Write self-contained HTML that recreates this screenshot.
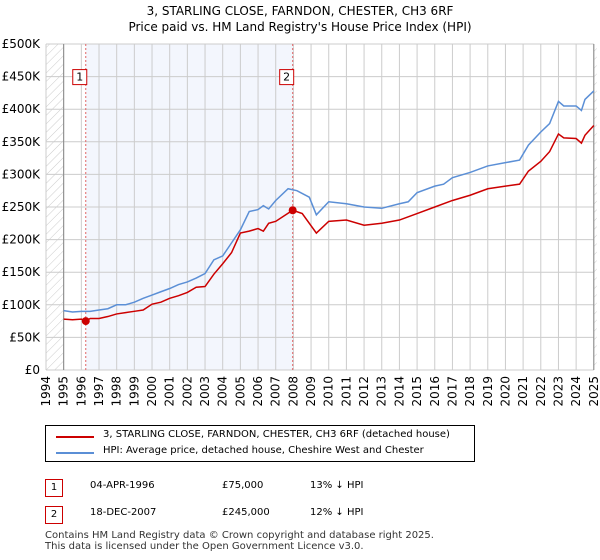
<!DOCTYPE html>
<html><head><meta charset="utf-8"><style>
body{margin:0;background:#fff;font-family:"DejaVu Sans","Liberation Sans",sans-serif;}
#wrap{position:relative;width:600px;height:560px;overflow:hidden;}
.t{position:absolute;font-size:10px;color:#000;}
</style></head><body>
<div id="wrap">
<svg id="chart" width="600" height="420" style="position:absolute;left:0;top:0;font-family:'DejaVu Sans','Liberation Sans',sans-serif">
<defs><pattern id="hatch" width="6" height="6" patternUnits="userSpaceOnUse" patternTransform="rotate(45)"><line x1="0" y1="0" x2="0" y2="6" stroke="#ccc" stroke-width="1"/></pattern></defs>
<text x="300" y="15" text-anchor="middle" font-size="12">3, STARLING CLOSE, FARNDON, CHESTER, CH3 6RF</text>
<text x="300" y="31" text-anchor="middle" font-size="12">Price paid vs. HM Land Registry's House Price Index (HPI)</text>
<g id="g"></g>
</svg>
<div style="position:absolute;left:45px;top:425px;width:430px;height:37px;border:1px solid #000;box-sizing:border-box;">
<div style="position:absolute;left:10px;top:10px;width:38px;border-top:2px solid #cc0000"></div>
<div class="t" style="left:57px;top:3px">3, STARLING CLOSE, FARNDON, CHESTER, CH3 6RF (detached house)</div>
<div style="position:absolute;left:10px;top:26px;width:38px;border-top:2px solid #5b8fd6"></div>
<div class="t" style="left:57px;top:19px">HPI: Average price, detached house, Cheshire West and Chester</div>
</div>
<div>
<div class="t" style="left:45px;top:479px;width:16px;height:16px;border:1px solid #cc0000;text-align:center;line-height:16px">1</div>
<div class="t" style="left:90px;top:480px">04-APR-1996</div>
<div class="t" style="left:222px;top:480px">£75,000</div>
<div class="t" style="left:310px;top:480px">13% ↓ HPI</div>
</div>
<div>
<div class="t" style="left:45px;top:506px;width:16px;height:16px;border:1px solid #cc0000;text-align:center;line-height:16px">2</div>
<div class="t" style="left:90px;top:507px">18-DEC-2007</div>
<div class="t" style="left:222px;top:507px">£245,000</div>
<div class="t" style="left:310px;top:507px">12% ↓ HPI</div>
</div>
<div class="t" style="left:45px;top:530px;line-height:11px;color:#333">Contains HM Land Registry data © Crown copyright and database right 2025.<br>This data is licensed under the Open Government Licence v3.0.</div>
</div>
<script>
const hpiYears=[1995,1995.5,1996,1996.5,1997,1997.5,1998,1998.5,1999,1999.5,2000,2000.5,2001,2001.5,2002,2002.5,2003,2003.5,2004,2004.5,2005,2005.5,2006,2006.3,2006.6,2007,2007.7,2008.2,2008.9,2009.3,2010,2011,2012,2013,2014,2014.5,2015,2016,2016.5,2017,2018,2019,2020,2020.8,2021.3,2022,2022.5,2023,2023.3,2024,2024.3,2024.5,2025];
const hpiValues=[91,89,90,90,92,94,100,100,104,110,115,120,125,131,135,141,148,169,175,195,215,243,246,252,247,260,278,275,265,238,258,255,250,248,255,258,272,282,285,295,303,313,318,322,345,365,378,412,405,405,398,415,428];
const redYears=[1995,1995.5,1996,1996.25,1996.5,1997,1997.5,1998,1998.5,1999,1999.5,2000,2000.5,2001,2001.5,2002,2002.5,2003,2003.5,2004,2004.5,2005,2005.5,2006,2006.3,2006.6,2007,2007.96,2008.5,2009.3,2010,2011,2012,2013,2014,2015,2016,2017,2018,2019,2020,2020.8,2021.3,2022,2022.5,2023,2023.3,2024,2024.3,2024.5,2025];
const redValues=[78,77,78,75,79,79,82,86,88,90,92,101,104,110,114,119,127,128,147,163,180,210,213,217,213,225,228,245,240,210,228,230,222,225,230,240,250,260,268,278,282,285,305,320,335,362,356,355,348,360,375];
const sales=[[1996.25,75,"1"],[2007.96,245,"2"]];
const yTicks=[0,50,100,150,200,250,300,350,400,450,500];
const yLabels=["£0","£50K","£100K","£150K","£200K","£250K","£300K","£350K","£400K","£450K","£500K"];
const xYears=[1994,1995,1996,1997,1998,1999,2000,2001,2002,2003,2004,2005,2006,2007,2008,2009,2010,2011,2012,2013,2014,2015,2016,2017,2018,2019,2020,2021,2022,2023,2024,2025];
const X0=46,X1=593.8,Y0=370,Y1=44;
const xs=y=>X0+(y-1994)*(X1-X0)/31;
const ys=v=>Y0-v*(Y0-Y1)/500;
const g=document.getElementById('g');const NS="http://www.w3.org/2000/svg";
function mk(t,a,p){const e=document.createElementNS(NS,t);for(const k in a)e.setAttribute(k,a[k]);(p||g).appendChild(e);return e;}
let e;
e=mk('rect',{x:xs(1996.25),y:Y1,width:xs(2007.96)-xs(1996.25),height:Y0-Y1,fill:'#f3f6fd'});


e=mk('rect',{x:X0,y:Y1,width:xs(1995)-X0,height:Y0-Y1,fill:'url(#hatch)'});


e=mk('rect',{x:xs(2025),y:Y1,width:3,height:Y0-Y1,fill:'url(#hatch)'});


yTicks.forEach((v,i)=>{
 e=mk('line',{x1:X0,x2:X1,y1:ys(v),y2:ys(v),stroke:'#ccc','stroke-width':1});
 
 
 e=mk('text',{x:X0-6,y:ys(v)+4,'text-anchor':'end','font-size':12});e.textContent=yLabels[i];
 
 
});
xYears.forEach(y=>{
 e=mk('line',{x1:xs(y),x2:xs(y),y1:Y1,y2:Y0,stroke:'#ccc','stroke-width':1});
 
 
 e=mk('text',{x:0,y:0,'text-anchor':'end','font-size':12,transform:`translate(${xs(y)+4},${Y0+6}) rotate(-90)`});e.textContent=y;
 
 
});
e=mk('line',{x1:xs(1995),x2:xs(1995),y1:Y1,y2:Y0,stroke:'#888'});


e=mk('line',{x1:xs(2025),x2:xs(2025),y1:Y1,y2:Y0,stroke:'#888'});


sales.forEach(s=>{
 e=mk('line',{x1:xs(s[0]),x2:xs(s[0]),y1:Y1,y2:Y0,stroke:'#e06666','stroke-dasharray':'2,2'});
 
 
});
e=mk('polyline',{points:hpiYears.map((y,i)=>xs(y)+','+ys(hpiValues[i])).join(' '),fill:'none',stroke:'#5b8fd6','stroke-width':1.5});


e=mk('polyline',{points:redYears.map((y,i)=>xs(y)+','+ys(redValues[i])).join(' '),fill:'none',stroke:'#cc0000','stroke-width':1.5});


sales.forEach(s=>{
 e=mk('circle',{cx:xs(s[0]),cy:ys(s[1]),r:4,fill:'#cc0000'});
 
 
 e=mk('rect',{x:xs(s[0])-13,y:ys(450)-7,width:14,height:15,fill:'#fff',stroke:'#cc0000'});
 
 
 e=mk('text',{x:xs(s[0])-6,y:ys(450)+4,'text-anchor':'middle','font-size':11});e.textContent=s[2];
 
 
});
</script>
</body></html>
